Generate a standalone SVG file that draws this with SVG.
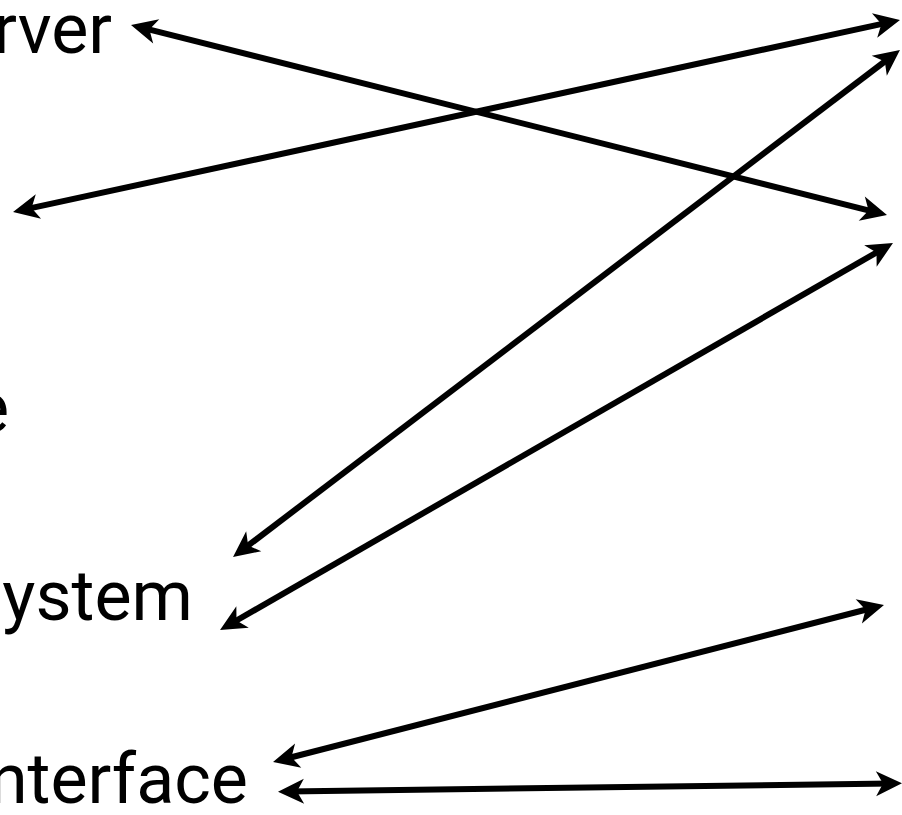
<svg xmlns="http://www.w3.org/2000/svg" width="902" height="815" viewBox="0 0 902 815">
<style>
.lbl{font-family:Roboto,"Liberation Sans",sans-serif;font-size:70px;fill:#000;}
.c{stroke:#000;stroke-width:6;fill:none;marker-start:url(#ah);marker-end:url(#ah);}
</style>
<defs>
<marker id="ah" markerUnits="userSpaceOnUse" viewBox="-18 -16 30 32" markerWidth="30" markerHeight="32" refX="0" refY="0" orient="auto-start-reverse" overflow="visible">
<path d="M10,0 L-16,-12.5 L-9,0 L-16,12.5 Z" fill="#000"/>
</marker>
</defs>
<rect width="902" height="815" fill="#fff"/>
<g id="n-server"><text class="lbl" x="112" y="53" text-anchor="end">rver</text></g>
<g id="n-e"><text class="lbl" x="9" y="432" text-anchor="end">e</text></g>
<g id="n-system"><text class="lbl" x="193" y="620" text-anchor="end">ystem</text></g>
<g id="n-interface"><text class="lbl" x="248" y="803" text-anchor="end">nterface</text></g>
<g id="connectors">
<line class="c" x1="140.7" y1="27.4" x2="877.3" y2="212.6"/>
<line class="c" x1="22.8" y1="209.9" x2="890.2" y2="22.1"/>
<line class="c" x1="241" y1="551" x2="892" y2="56"/>
<line class="c" x1="228.7" y1="625" x2="884.3" y2="248"/>
<line class="c" x1="282.7" y1="759.5" x2="874.3" y2="607.5"/>
<line class="c" x1="288" y1="791.5" x2="892" y2="783.5"/>
</g>
</svg>
